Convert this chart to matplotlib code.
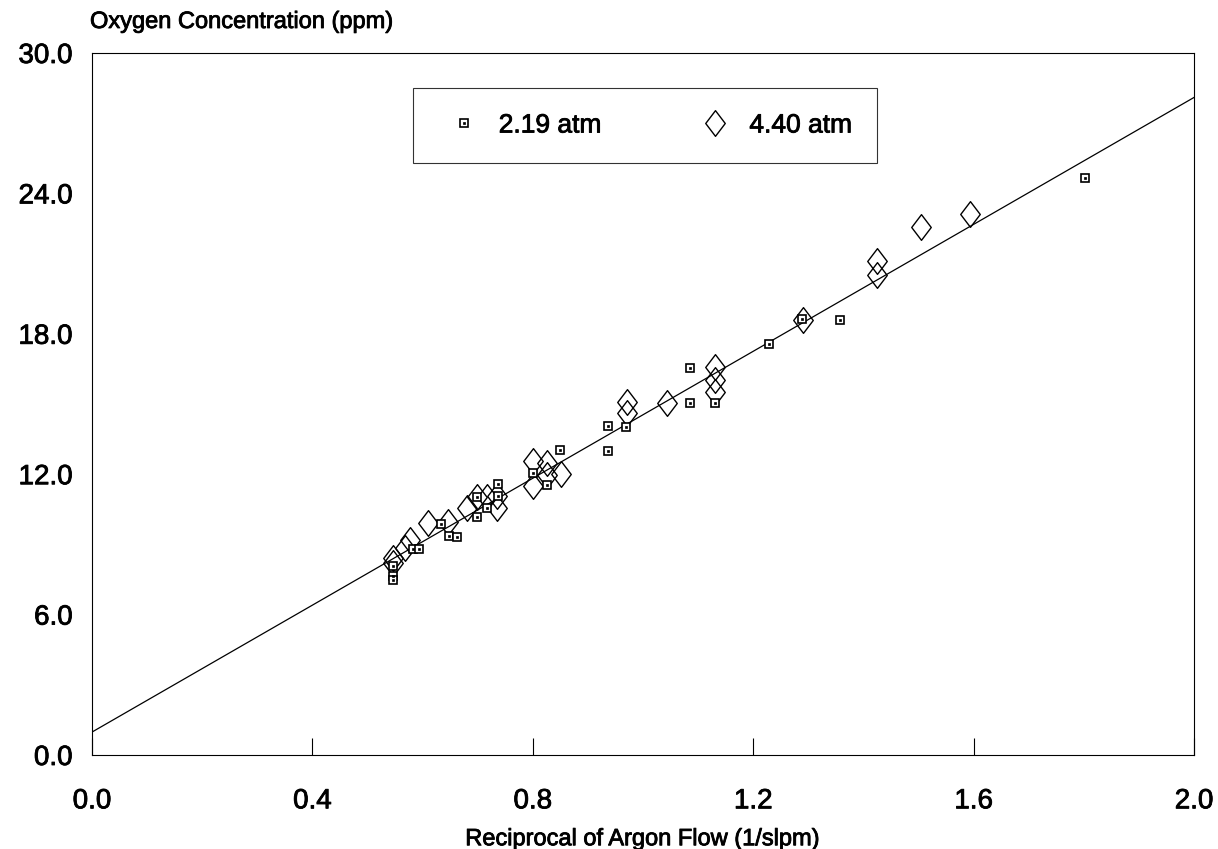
import matplotlib
matplotlib.use("Agg")
import matplotlib.pyplot as plt
import matplotlib.patheffects as pe
import numpy as np
from matplotlib.path import Path
from matplotlib.legend_handler import HandlerTuple

# ---- data ----
x_219 = [1.802, 1.357, 1.289, 1.229, 1.131, 1.085, 1.085, 0.969, 0.936, 0.936,
         0.849, 0.800, 0.826, 0.737, 0.737, 0.699, 0.699, 0.717, 0.633, 0.648,
         0.662, 0.583, 0.593, 0.546, 0.546, 0.546]
y_219 = [24.66, 18.59, 18.63, 17.56, 15.04, 15.04, 16.54, 14.02, 14.06, 12.99,
         13.03, 12.05, 11.54, 11.58, 11.07, 11.03, 10.17, 10.56, 9.87, 9.36,
         9.32, 8.80, 8.80, 8.08, 7.65, 7.48]

x_440 = [1.593, 1.505, 1.425, 1.425, 1.290, 0.971, 0.971, 1.044, 1.131, 1.131,
         1.131, 0.800, 0.826, 0.826, 0.851, 0.800, 0.681, 0.699, 0.717, 0.735,
         0.735, 0.610, 0.646, 0.577, 0.568, 0.546, 0.546]
y_440 = [23.12, 22.56, 21.11, 20.51, 18.59, 15.09, 14.62, 15.04, 16.58, 16.03,
         15.51, 12.56, 12.48, 11.97, 12.01, 11.50, 10.56, 11.03, 11.03, 11.07,
         10.56, 9.91, 9.96, 9.19, 8.85, 8.42, 8.21]

fit_intercept = 0.98
fit_slope = 13.56

x_ticks = [0.0, 0.4, 0.8, 1.2, 1.6, 2.0]
y_ticks = [0.0, 6.0, 12.0, 18.0, 24.0, 30.0]
labels = ["2.19 atm", "4.40 atm"]

plt.rcParams['font.family'] = ['Liberation Sans', 'DejaVu Sans']

W, H = 1218, 849
fig = plt.figure(figsize=(W / 100, H / 100), dpi=100)
ax = fig.add_axes([92 / W, 1 - 755 / H, (1194 - 92) / W, (755 - 53) / H])

# fitted line
xl = np.array([0.0, 2.0])
ax.plot(xl, fit_intercept + fit_slope * xl, color='black', lw=0.9, zorder=2)

# tall diamond marker
diamond = Path([(0, 1), (0.76, 0), (0, -1), (-0.76, 0), (0, 1)],
               [Path.MOVETO, Path.LINETO, Path.LINETO, Path.LINETO, Path.CLOSEPOLY])

d_line, = ax.plot(x_440, y_440, linestyle='none', marker=diamond, markersize=18.5,
                  mfc='none', mec='black', mew=1.0, zorder=3)
s_line, = ax.plot(x_219, y_219, linestyle='none', marker='s', markersize=5.5,
                  mfc='white', mec='black', mew=1.2, zorder=4)
s_dot, = ax.plot(x_219, y_219, linestyle='none', marker='s', markersize=1.6,
                 mfc='black', mec='black', mew=0.5, zorder=5)

ax.set_xlim(0, 2.0)
ax.set_ylim(0, 30.0)
ax.set_xticks(x_ticks)
ax.set_yticks(y_ticks)
ax.set_xticklabels([f"{v:.1f}" for v in x_ticks])
ax.set_yticklabels([f"{v:.1f}" for v in y_ticks])
ax.tick_params(axis='x', direction='in', length=12, width=0.8, pad=24, labelsize=20)
ax.tick_params(axis='y', direction='in', length=0, width=0.8, pad=14, labelsize=20)
for sp in ax.spines.values():
    sp.set_linewidth(0.8)

ax.set_xlabel("Reciprocal of Argon Flow (1/slpm)", fontsize=17, labelpad=10)
title = fig.text(90 / W, 1 - 22 / H, "Oxygen Concentration (ppm)", fontsize=17,
                 ha='left', va='center')

leg = fig.legend([(s_line, s_dot), d_line], labels,
                 handler_map={tuple: HandlerTuple(ndivide=1, pad=0)},
                 loc='center',
                 bbox_to_anchor=(645 / W, 1 - 125.5 / H),
                 bbox_transform=fig.transFigure, ncol=2,
                 fontsize=19, frameon=True, fancybox=False, borderpad=0.95,
                 handlelength=2.0, handletextpad=0.3, columnspacing=3.3,
                 borderaxespad=0)
leg.get_frame().set_edgecolor('black')
leg.get_frame().set_linewidth(0.8)

# slightly heavier text strokes, like the original print
bold = [pe.withStroke(linewidth=0.6, foreground='black')]
texts = ([title, ax.xaxis.label] + ax.get_xticklabels() + ax.get_yticklabels()
         + leg.get_texts())
for t in texts:
    t.set_path_effects(bold)

fig.savefig("out.png", dpi=100)
